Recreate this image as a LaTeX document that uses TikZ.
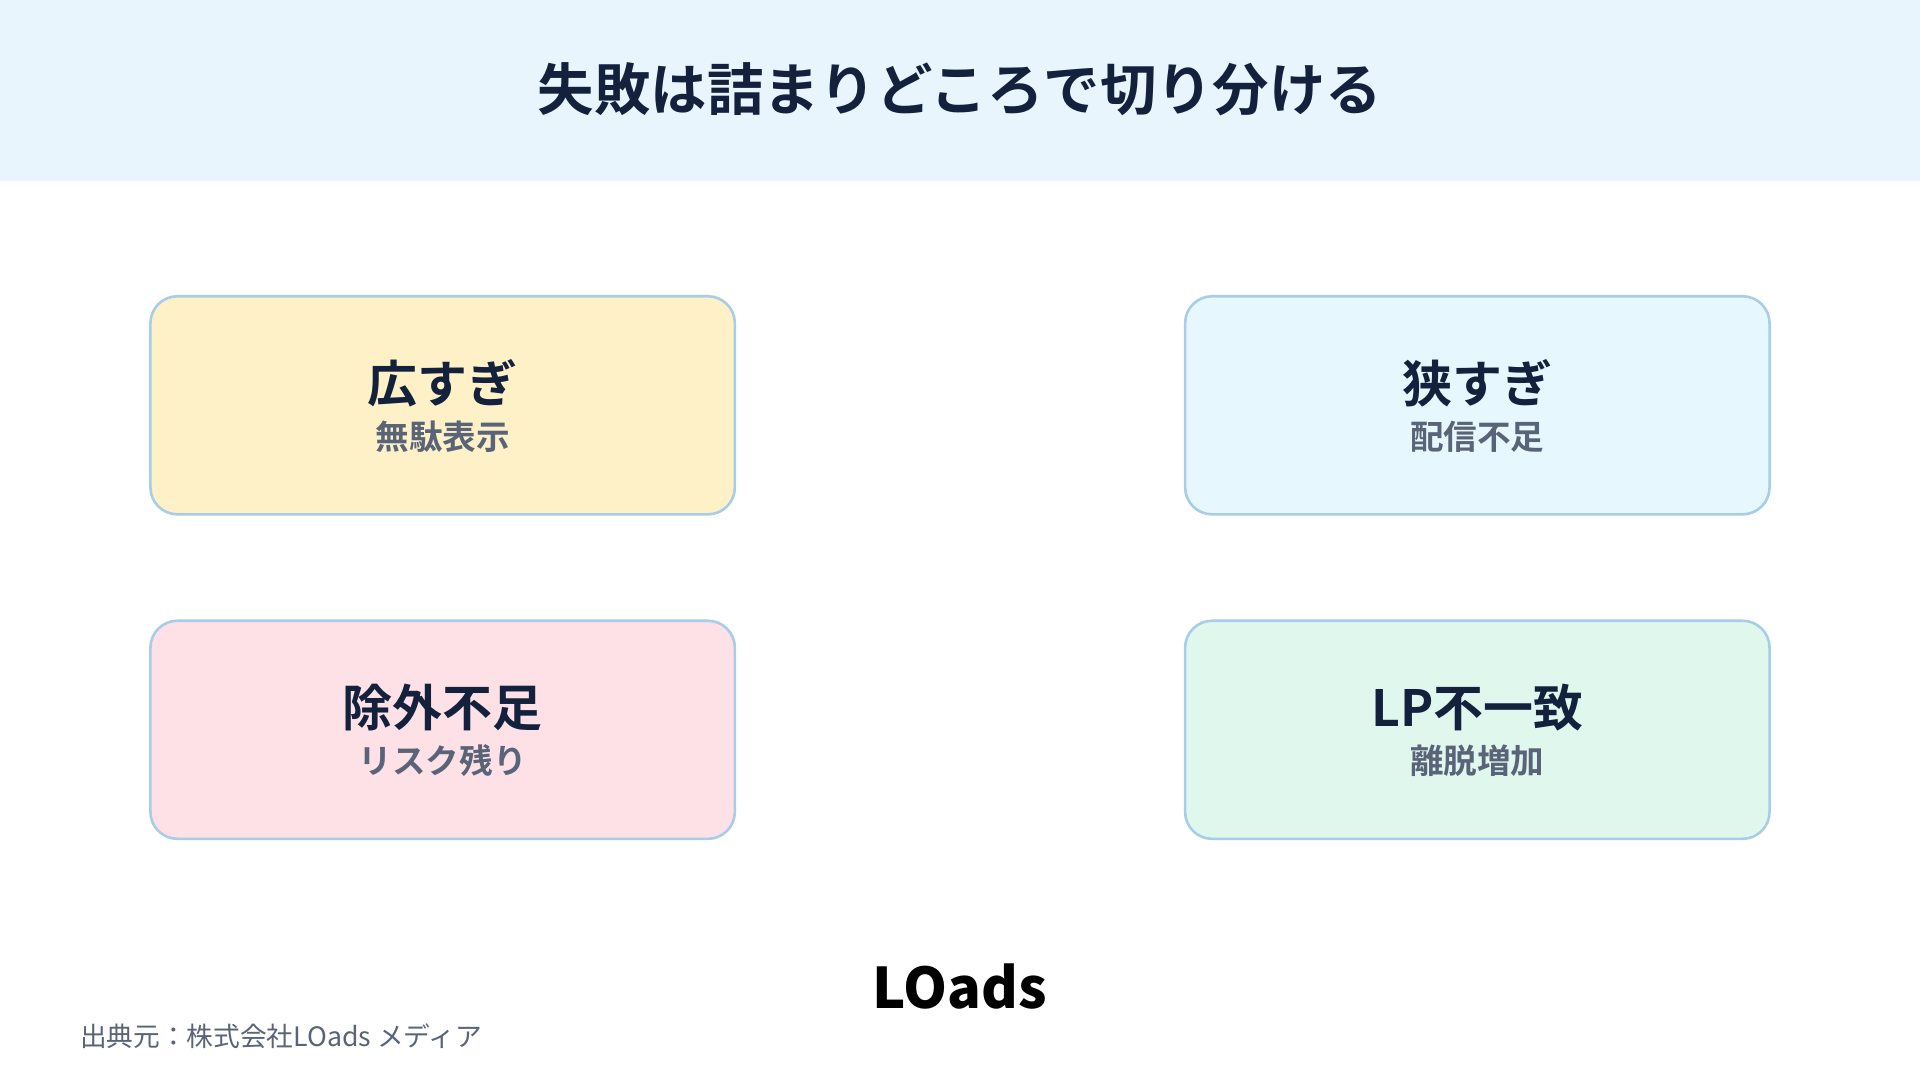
\documentclass[tikz,border=0pt]{standalone}
\usepackage{fontspec}
\setmainfont{Noto Sans CJK JP}[BoldFont={* Bold}]
\setsansfont{Noto Sans CJK JP}[BoldFont={* Black}]
\usetikzlibrary{positioning}
\definecolor{bandblue}{HTML}{E8F5FD}
\definecolor{navy}{HTML}{14213D}
\definecolor{subgray}{HTML}{5A6478}
\definecolor{edgeblue}{HTML}{A8CDE8}
\definecolor{fillyellow}{HTML}{FEF0C7}
\definecolor{fillblue}{HTML}{E6F8FD}
\definecolor{fillpink}{HTML}{FDE1E6}
\definecolor{fillgreen}{HTML}{E0F7EE}

\tikzset{
  card/.style={draw=edgeblue, line width=0.6pt, rounded corners=0.22cm,
    minimum width=4.77cm, minimum height=1.78cm},
  cardtitle/.style={text=navy, font=\fontsize{11.6pt}{13pt}\selectfont\bfseries},
  cardsub/.style={text=subgray, font=\fontsize{7.8pt}{9pt}\selectfont\bfseries}
}

\begin{document}
\begin{tikzpicture}[x=0.01cm, y=-0.01cm]
\useasboundingbox (0,0) rectangle (1568,882);
\fill[white] (0,0) rectangle (1568,882);

% Bandeau titre
\fill[bandblue] (0,0) rectangle (1568,148);
\node[text=navy, font=\fontsize{13.1pt}{15pt}\selectfont\bfseries] (title) at (784,73) {失敗は詰まりどころで切り分ける};

% Cartes
\node[card, fill=fillyellow] (wide) at (361.5,331) {};
\node[cardtitle] at (361.5,313) {広すぎ};
\node[cardsub] at (361.5,357) {無駄表示};

\node[card, fill=fillblue] (narrow) at (1206.5,331) {};
\node[cardtitle] at (1206.5,313) {狭すぎ};
\node[cardsub] at (1206.5,357) {配信不足};

\node[card, fill=fillpink] (exclude) at (361.5,596) {};
\node[cardtitle] at (361.5,578) {除外不足};
\node[cardsub] at (361.5,621) {リスク残り};

\node[card, fill=fillgreen] (lp) at (1206.5,596) {};
\node[cardtitle] at (1206.5,578) {LP不一致};
\node[cardsub] at (1206.5,621) {離脱増加};

% Logo et source
\node[text=black, font=\fontsize{13pt}{14pt}\selectfont\sffamily\bfseries] (logo) at (784,806) {LOads};
\node[anchor=west, text=subgray, font=\fontsize{6.2pt}{7pt}\selectfont] (source) at (53,846) {出典元：株式会社LOads メディア};
\end{tikzpicture}
\end{document}
